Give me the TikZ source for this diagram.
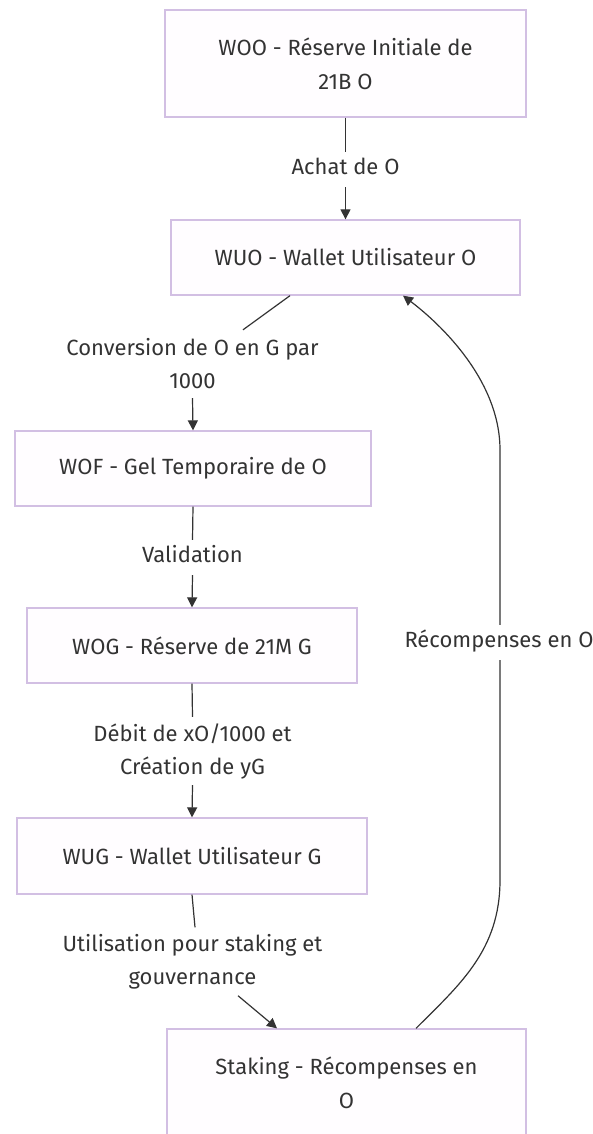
\documentclass[tikz,border=0pt]{standalone}
\usepackage{fontspec}
\setmainfont{Fira Sans}
\usetikzlibrary{arrows.meta}
\definecolor{ink}{HTML}{333333}
\definecolor{boxline}{HTML}{D2BFE3}
\definecolor{boxfill}{HTML}{FFFDFF}
\tikzset{
  flowbox/.style={draw=boxline, line width=1.3pt, fill=boxfill, text=ink,
    align=center, inner sep=0pt, font=\fontsize{22}{34}\selectfont},
  edgelabel/.style={text=ink, align=center, font=\fontsize{22}{33}\selectfont,
    inner xsep=2pt, inner ysep=0pt, minimum height=35pt},
  oneline/.style={edgelabel, text height=15pt, text depth=5pt},
  twoline/.style={edgelabel, minimum height=68pt},
  link/.style={draw=ink, line width=1.2pt},
  linkarrow/.style={link, -{Triangle[length=10pt,width=10pt]}},
}
\begin{document}
\begin{tikzpicture}[x=1pt,y=-1pt]
\useasboundingbox (0,0) rectangle (593,1134);

% process boxes
\node[flowbox, minimum width=361pt, minimum height=107pt] (woo) at (345.5,63.5)
  {WOO - Réserve Initiale de\\21B O};
\node[flowbox, minimum width=349pt, minimum height=75pt] (wuo) at (345.5,257.5)
  {WUO - Wallet Utilisateur O};
\node[flowbox, minimum width=356pt, minimum height=75pt] (wof) at (193,468.5)
  {WOF - Gel Temporaire de O};
\node[flowbox, minimum width=330pt, minimum height=75pt] (wog) at (192,645.5)
  {WOG - Réserve de 21M G};
\node[flowbox, minimum width=350pt, minimum height=76pt] (wug) at (192,856)
  {WUG - Wallet Utilisateur G};
\node[flowbox, minimum width=359pt, minimum height=108pt] (stk) at (346.5,1083)
  {Staking - Récompenses en\\O};

% edge labels
\node[oneline] (la) at (345.5,169.5) {Achat de O};
\node[twoline] (lb) at (192.5,364) {Conversion de O en G par\\1000};
\node[oneline] (lc) at (192.5,557.5) {Validation};
\node[twoline] (ld) at (192.5,751) {Débit de xO/1000 et\\Création de yG};
\node[twoline] (le) at (192.5,961.5) {Utilisation pour staking et\\gouvernance};

% main chain
\draw[link] (woo.south) -- (la.north);
\draw[linkarrow] (la.south) -- (wuo.north);
\draw[link] ([xshift=-55.5pt]wuo.south) -- ([xshift=50.5pt]lb.north);
\draw[linkarrow] (lb.south) -- (wof.north);
\draw[link] (wof.south) -- (lc.north);
\draw[linkarrow] (lc.south) -- (wog.north);
\draw[link] (wog.south) -- (ld.north);
\draw[linkarrow] (ld.south) -- (wug.north);
\draw[link] (wug.south) -- ([xshift=2.5pt]le.north);
\draw[linkarrow] ([xshift=45.5pt]le.south) -- ([xshift=-69.5pt]stk.north);

% rewards loop back to the O wallet
\draw[linkarrow] ([xshift=69.5pt]stk.north)
  .. controls +(44,-44) and +(0,70) .. (500,880)
  -- (500,450)
  .. controls +(0,-70) and +(37,28) .. ([xshift=57.5pt]wuo.south);
\node[oneline, fill=white] (lf) at (499,642) {Récompenses en O};
\end{tikzpicture}
\end{document}
